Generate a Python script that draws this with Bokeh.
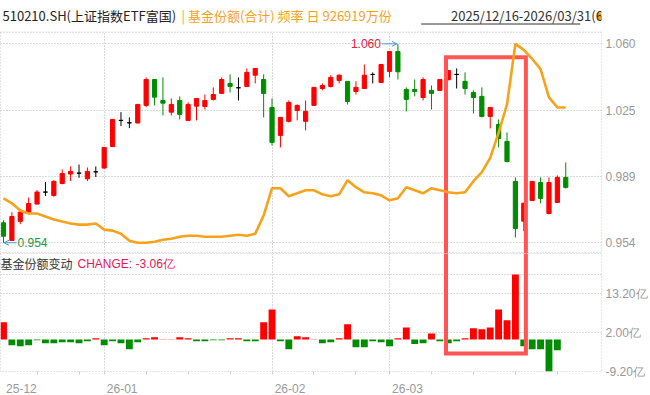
from bokeh.plotting import figure
from bokeh.layouts import column
from bokeh.models import (Range1d, FixedTicker, NumeralTickFormatter, PrintfTickFormatter,
                          CustomJSTickFormatter, ColumnDataSource, Label, Arrow, OpenHead)
from bokeh.embed import file_html
from bokeh.resources import INLINE

# ---------------- data ----------------
open_ = [0.9646, 0.9552, 0.9654, 0.9700, 0.9746, 0.9810, 0.9792, 0.9856, 0.9906, 0.9911,
         0.9881, 0.9918, 0.9938, 1.0053, 1.0192, 1.0179, 1.0178, 1.0272, 1.0410, 1.0298,
         1.0236, 1.0298, 1.0192, 1.0268, 1.0266, 1.0304, 1.0336, 1.0389, 1.0366, 1.0373,
         1.0433, 1.0410, 1.0261, 1.0112, 1.0187, 1.0245, 1.0187, 1.0272, 1.0362, 1.0373,
         1.0405, 1.0400, 1.0346, 1.0362, 1.0437, 1.0394, 1.0453, 1.0559, 1.0357, 1.0357,
         1.0314, 1.0352, 1.0352, 1.0409, 1.0437, 1.0400, 1.0341, 1.0320, 1.0213, 1.0171,
         1.0080, 0.9867, 0.9655, 0.9765, 0.9861, 0.9696, 0.9755, 0.9888]
high = [0.9659, 0.9703, 0.9721, 0.9781, 0.9821, 0.9863, 0.9874, 0.9931, 0.9947, 0.9957,
        0.9941, 0.9947, 1.0050, 1.0200, 1.0236, 1.0208, 1.0280, 1.0421, 1.0410, 1.0421,
        1.0309, 1.0320, 1.0288, 1.0309, 1.0330, 1.0368, 1.0421, 1.0437, 1.0421, 1.0469,
        1.0469, 1.0437, 1.0309, 1.0208, 1.0298, 1.0277, 1.0298, 1.0370, 1.0389, 1.0433,
        1.0437, 1.0400, 1.0400, 1.0490, 1.0448, 1.0492, 1.0560, 1.0600, 1.0368, 1.0410,
        1.0421, 1.0378, 1.0411, 1.0460, 1.0469, 1.0448, 1.0352, 1.0368, 1.0262, 1.0197,
        1.0128, 0.9888, 0.9752, 0.9867, 0.9888, 0.9888, 0.9899, 0.9968]
low = [0.9540, 0.9549, 0.9639, 0.9700, 0.9746, 0.9789, 0.9785, 0.9851, 0.9869, 0.9886,
       0.9869, 0.9890, 0.9935, 1.0050, 1.0162, 1.0151, 1.0176, 1.0263, 1.0272, 1.0218,
       1.0218, 1.0197, 1.0192, 1.0192, 1.0250, 1.0298, 1.0336, 1.0341, 1.0298, 1.0373,
       1.0389, 1.0208, 1.0059, 1.0048, 1.0181, 1.0192, 1.0139, 1.0270, 1.0352, 1.0368,
       1.0389, 1.0277, 1.0330, 1.0362, 1.0389, 1.0392, 1.0421, 1.0410, 1.0240, 1.0320,
       1.0298, 1.0250, 1.0351, 1.0405, 1.0362, 1.0330, 1.0229, 1.0208, 1.0149, 1.0048,
       0.9968, 0.9568, 0.9602, 0.9765, 0.9750, 0.9691, 0.9754, 0.9829]
close = [0.9575, 0.9680, 0.9703, 0.9749, 0.9810, 0.9810, 0.9867, 0.9909, 0.9920, 0.9911,
         0.9920, 0.9918, 1.0048, 1.0197, 1.0192, 1.0179, 1.0277, 1.0410, 1.0316, 1.0284,
         1.0277, 1.0224, 1.0277, 1.0309, 1.0298, 1.0330, 1.0410, 1.0373, 1.0366, 1.0448,
         1.0469, 1.0336, 1.0075, 1.0208, 1.0288, 1.0272, 1.0240, 1.0368, 1.0378, 1.0421,
         1.0433, 1.0293, 1.0368, 1.0433, 1.0437, 1.0490, 1.0559, 1.0451, 1.0304, 1.0346,
         1.0410, 1.0336, 1.0410, 1.0458, 1.0437, 1.0362, 1.0314, 1.0213, 1.0261, 1.0096,
         0.9973, 0.9616, 0.9751, 0.9867, 0.9776, 0.9861, 0.9888, 0.9835]
# fund shares (合计), 万份
share = [654200, 639100, 617900, 608800, 608800, 599700, 590600, 584500, 578500, 575400,
         575400, 578500, 560300, 557300, 548200, 527000, 520900, 520900, 523900, 530000,
         533000, 539100, 542100, 542100, 539100, 539100, 539100, 542100, 545100, 542100,
         548200, 602700, 684500, 684500, 660300, 669400, 678500, 678500, 666300, 660300,
         666300, 708800, 687500, 672400, 669400, 663300, 648200, 654200, 687500, 678500,
         669400, 684500, 678500, 672400, 669400, 672400, 705700, 733000, 775400, 851200,
         936000, 1117800, 1099600, 1072400, 1042100, 957200, 926919, 926919]
# daily change of fund shares, 亿份
change = [5.0, -1.6, -1.9, -1.6, -0.2, -1.05, -1.05, -0.77, -0.77, -1.05,
          -0.5, 0.4, -1.6, -0.5, -1.05, -2.8, -0.77, 0.4, 0.67, 0.1,
          0.1, 0.67, 0.4, -0.5, -0.5, -0.2, -0.2, 0.4, 0.4, -0.5,
          -0.5, 5.0, 8.7, -0.5, -2.8, 0.96, 0.67, 0.1, -1.05, -0.77,
          0.4, 4.4, -2.2, -2.2, -0.5, -0.77, -1.9, 0.4, 3.5, -1.3,
          -1.05, 1.8, -0.5, -1.05, -0.5, 0.4, 3.3, 3.0, 3.5, 8.7,
          5.6, 18.8, -1.9, -2.8, -2.8, -9.2, -3.06, 0.0]
month_idx = [0, 12, 32, 46]
month_labels = ["25-12", "26-01", "26-02", "26-03"]
week_idx = [4, 9, 12, 17, 22, 27, 32, 37, 42, 46, 51, 56, 61, 66]
header_code = "510210.SH(上证指数ETF富国)"
header_series = "| 基金份额(合计) 频率 日 926919万份"
header_period = "2025/12/16-2026/03/31(68日)"
lower_title = "基金份额变动"
lower_change = "CHANGE: -3.06亿"
highlight_days = (53, 62)          # highlighted period (day indices)
highlight_price_top = 1.0529
highlight_change_bottom = -4.0

# ---------------- styles / layout ----------------
RED, GREEN, BLACK = "#ff0000", "#008c00", "#000000"
ORANGE = "#f7a21b"
GRID = "#b4b4b4"
AXIS_TXT = "#999999"
BOX = "#ff5555"
TEAL = "#4a9fc4"
NUM_FONT = "Liberation Sans"
CJK_FONT = "Noto Sans CJK SC"

W = 650
H_HDR, H_TOP, H_BOT = 32, 221, 142
BORDER_R = 47
BOT_AXIS = 24
FRAME_W = W - BORDER_R
X_START, X_END = -0.356, 71.26
PPI = FRAME_W / (X_END - X_START)

n = len(close)
idx = list(range(n))

lo, hi = min(low), max(high)
span = hi - lo
y_start, y_end = lo - span * 0.054, hi + span * 0.057

s_lo, s_hi = min(share), max(share)
s_span = s_hi - s_lo

colors = [RED if c > o else (GREEN if c < o else BLACK) for o, c in zip(open_, close)]
src = ColumnDataSource(dict(x=idx, o=open_, h=high, l=low, c=close,
                            top=[max(o, c) for o, c in zip(open_, close)],
                            bot=[min(o, c) for o, c in zip(open_, close)],
                            color=colors))

x_range = Range1d(X_START, X_END)

def style_common(p):
    p.background_fill_color = "white"
    p.border_fill_color = "white"
    p.outline_line_color = "#c8c8c8"
    p.outline_line_dash = "1 2"
    p.xgrid.ticker = FixedTicker(ticks=month_idx[1:])
    for g in (p.xgrid, p.ygrid):
        g.grid_line_color = GRID
        g.grid_line_dash = "1 2"
        g.grid_line_width = 1

def style_yaxis(ax):
    ax.axis_line_color = None
    ax.major_tick_line_color = None
    ax.minor_tick_line_color = None
    ax.major_tick_out = 0
    ax.major_tick_in = 0
    ax.major_label_standoff = 4
    ax.major_label_text_color = AXIS_TXT
    ax.major_label_text_font = NUM_FONT
    ax.major_label_text_font_size = "12px"

# ---------------- header strip ----------------
hdr = figure(width=W, height=H_HDR, x_range=Range1d(0, W), y_range=Range1d(0, H_HDR),
             output_backend="svg", toolbar_location=None, x_axis_location=None,
             y_axis_location=None, min_border=0)
hdr.grid.visible = False
hdr.outline_line_color = None
hdr.background_fill_color = "white"
hdr.border_fill_color = "white"
hy = 17
for x, txt, col, font, align in [(2, header_code, "#222222", CJK_FONT, "left"),
                                 (181, header_series, ORANGE, CJK_FONT, "left"),
                                 (627, header_period, "#333333", CJK_FONT, "right"),
                                 (629, "▼", "#999999", CJK_FONT, "left")]:
    hdr.add_layout(Label(x=x, y=hy, x_units="screen", y_units="screen", text=txt,
                         text_color=col, text_font=font, text_font_size="13px",
                         text_baseline="middle", text_align=align))
hdr.line([455, 627], [8.5, 8.5], line_color="#333333", line_width=1)        # underline
hdr.line([0, W], [0.5, 0.5], line_color="#c8c8c8", line_width=1, line_dash="1 2")
hdr.rect([647.5], [16], width=5, height=8, fill_color=ORANGE, line_color=None)

# ---------------- top panel ----------------
top = figure(width=W, height=H_TOP, x_range=x_range, y_range=Range1d(y_start, y_end),
             output_backend="svg", toolbar_location=None, x_axis_location=None,
             y_axis_location="right", min_border_left=0, min_border_right=BORDER_R,
             min_border_top=0, min_border_bottom=0)
style_common(top)
yt = [lo, lo + span / 3, lo + 2 * span / 3, hi]
top.yaxis.ticker = FixedTicker(ticks=yt)
top.ygrid.ticker = FixedTicker(ticks=yt)
top.yaxis.formatter = NumeralTickFormatter(format="0.000")
style_yaxis(top.yaxis)
top.extra_y_ranges = {"share": Range1d(s_lo - s_span * 0.054, s_hi + s_span * 0.057)}

top.segment(x0="x", y0="h", x1="x", y1="l", line_color="color", line_width=1, source=src)
top.vbar(x="x", top="top", bottom="bot", width=0.5, fill_color="color", line_color="color",
         line_width=1, source=src)

hx0, hx1 = highlight_days[0] - 0.27, highlight_days[1] + 0.25
top.line([hx0, hx0, hx1, hx1], [y_start - span, highlight_price_top, highlight_price_top, y_start - span],
         line_color=BOX, line_width=4, line_join="miter")

top.line(idx, share, y_range_name="share", line_color=ORANGE, line_width=2.6)

i_hi = high.index(hi)
i_lo = low.index(lo)
top.add_layout(Arrow(end=OpenHead(size=5, line_color=TEAL, line_width=1),
                     x_start=i_hi - 16 / PPI, y_start=hi, x_end=i_hi - 1 / PPI, y_end=hi,
                     line_color=TEAL, line_width=1))
top.add_layout(Label(x=i_hi, y=hi, x_offset=-17, text=f"{hi:.3f}", text_align="right",
                     text_baseline="middle", text_color="#e0203c", text_font=NUM_FONT,
                     text_font_size="12px"))
top.add_layout(Arrow(end=OpenHead(size=5, line_color=TEAL, line_width=1),
                     x_start=i_lo + 13 / PPI, y_start=lo, x_end=i_lo + 0.5 / PPI, y_end=lo,
                     line_color=TEAL, line_width=1))
top.add_layout(Label(x=i_lo, y=lo, x_offset=14, text=f"{lo:.3f}", text_align="left",
                     text_baseline="middle", text_color="#1a9a4a", text_font=NUM_FONT,
                     text_font_size="12px"))

# ---------------- bottom panel ----------------
bmin, bmax = min(change), max(change)
bspan = bmax - bmin
bot = figure(width=W, height=H_BOT, x_range=x_range, y_range=Range1d(bmin, bmax + bspan * 0.216),
             output_backend="svg", toolbar_location=None, y_axis_location="right",
             min_border_left=0, min_border_right=BORDER_R, min_border_top=0,
             min_border_bottom=BOT_AXIS)
style_common(bot)
bt = [bmin, bmin + 0.4 * bspan, bmin + 0.8 * bspan]
bot.yaxis.ticker = FixedTicker(ticks=bt)
bot.ygrid.ticker = FixedTicker(ticks=bt + [bmax])
bot.yaxis.formatter = PrintfTickFormatter(format="%.2f亿")
style_yaxis(bot.yaxis)

bar_colors = [RED if v > 0 else GREEN for v in change]
bot.vbar(x=idx, top=change, bottom=0, width=0.82, fill_color=bar_colors, line_color=None)

bot.line([hx0, hx0, hx1, hx1], [bmax + bspan, highlight_change_bottom, highlight_change_bottom, bmax + bspan],
         line_color=BOX, line_width=4, line_join="miter")

frame_h_bot = H_BOT - BOT_AXIS
bot.add_layout(Label(x=0, y=frame_h_bot - 10, x_units="screen", y_units="screen", text=lower_title,
                     text_color="#333333", text_font=CJK_FONT, text_font_size="12px",
                     text_baseline="middle"))
bot.add_layout(Label(x=77, y=frame_h_bot - 10, x_units="screen", y_units="screen", text=lower_change,
                     text_color="#e3175a", text_font=NUM_FONT, text_font_size="12px",
                     text_baseline="middle"))

shift = 18 / PPI
bot.xaxis.ticker = FixedTicker(ticks=[m + shift for m in month_idx], minor_ticks=week_idx)
bot.xaxis.formatter = CustomJSTickFormatter(args=dict(labels=month_labels),
                                            code="return labels[index];")
bot.xaxis.axis_line_color = None
bot.xaxis.major_tick_line_color = None
bot.xaxis.minor_tick_line_color = "#d0d0d0"
bot.xaxis.minor_tick_out = 3
bot.xaxis.minor_tick_in = 0
bot.xaxis.major_label_standoff = 6
bot.xaxis.major_label_text_color = AXIS_TXT
bot.xaxis.major_label_text_font = NUM_FONT
bot.xaxis.major_label_text_font_size = "12px"

layout = column(hdr, top, bot, spacing=0)
open("out.html", "w").write(file_html(layout, INLINE))
